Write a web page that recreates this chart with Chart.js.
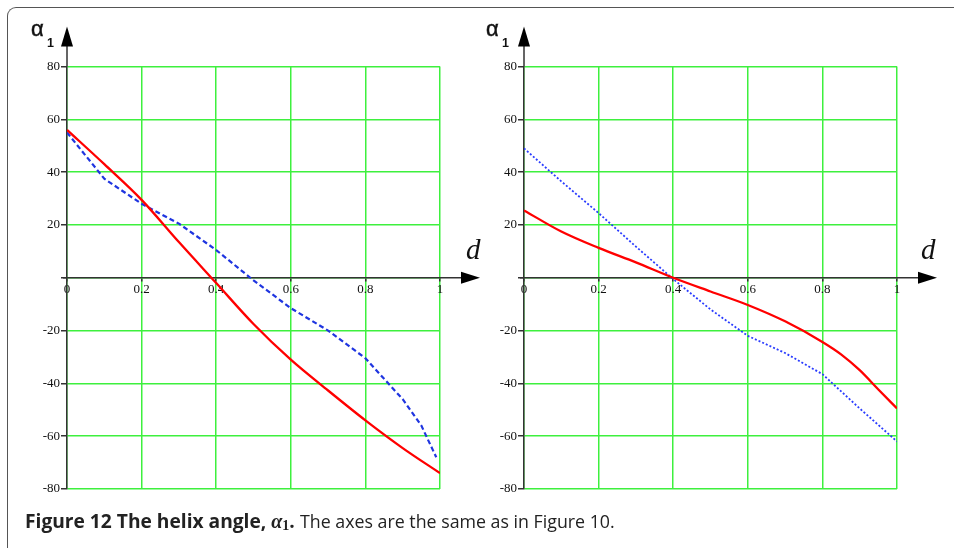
<!DOCTYPE html>
<html>
<head>
<meta charset="utf-8">
<script src="https://cdn.jsdelivr.net/npm/chart.js@4/dist/chart.umd.min.js"></script>
<style>
  html, body { margin:0; padding:0; background:#fff; }
  #wrap { position:relative; width:954px; height:548px; overflow:hidden; background:#fff; }
  canvas { position:absolute; top:0; }
  #frame { position:absolute; left:7px; top:7px; width:1000px; height:700px;
           border-top:1px solid #555; border-left:1px solid #555; border-top-left-radius:9px; }
  svg { position:absolute; left:0; top:0; }
</style>
</head>
<body>
<div id="wrap">
  <div id="frame"></div>
  <canvas id="c1" width="497" height="500" style="left:0px;width:497px;height:500px"></canvas>
  <canvas id="c2" width="497" height="500" style="left:457px;width:497px;height:500px"></canvas>
  <svg width="954" height="548" xmlns="http://www.w3.org/2000/svg">
    <text x="31" y="36" font-family="Liberation Sans" font-size="22" fill="#111" stroke="#111" stroke-width="0.5">α</text>
    <text x="47" y="47" font-family="Liberation Sans" font-weight="bold" font-size="12.5" fill="#111">1</text>
    <text x="486" y="36" font-family="Liberation Sans" font-size="22" fill="#111" stroke="#111" stroke-width="0.5">α</text>
    <text x="502" y="47" font-family="Liberation Sans" font-weight="bold" font-size="12.5" fill="#111">1</text>
    <text x="466" y="259" font-family="Liberation Serif" font-style="italic" font-size="29" fill="#111">d</text>
    <text x="921" y="259" font-family="Liberation Serif" font-style="italic" font-size="29" fill="#111">d</text>
    <text x="25" y="528" font-family="Open Sans" font-size="19.2" fill="#222"><tspan font-weight="bold">Figure 12 The helix angle, </tspan><tspan font-family="Liberation Serif" font-weight="bold" font-style="italic" font-size="20">α</tspan><tspan font-family="Liberation Serif" font-weight="bold" font-size="14" dy="2">1</tspan><tspan font-weight="bold" dy="-2">.</tspan></text>
    <text x="300" y="528" font-family="Open Sans" font-size="17.8" fill="#222">The axes are the same as in Figure 10.</text>
  </svg>
</div>
<script>
// ---- data ----
const leftRedD   = [0, 0.1, 0.2, 0.3, 0.4, 0.5, 0.6, 0.7, 0.8, 0.9, 1.0];
const leftRedA   = [56, 43, 29.5, 13.5, -2, -17.5, -31, -42.7, -54, -64.5, -74];
const leftBlueD  = [0, 0.1, 0.2, 0.3, 0.4, 0.5, 0.6, 0.7, 0.8, 0.9, 0.95, 0.99];
const leftBlueA  = [55, 37.5, 28, 20.5, 10.5, -1, -11.5, -20, -30.5, -46, -56, -68];
const rightRedD  = [0, 0.1, 0.2, 0.3, 0.4, 0.5, 0.6, 0.7, 0.8, 0.85, 0.9, 0.95, 1.0];
const rightRedA  = [25.5, 17.5, 11.3, 5.8, 0, -5.2, -10.3, -16.5, -24.3, -29, -35, -42.3, -49.5];
const rightBlueD = [0, 0.1, 0.2, 0.3, 0.4, 0.5, 0.6, 0.7, 0.8, 0.9, 1.0];
const rightBlueA = [49, 36.5, 24.5, 11.8, -0.5, -12, -22, -28.5, -36.5, -49.5, -62];
const xTickLabels = ['0', '0.2', '0.4', '0.6', '0.8', '1'];
const yTickLabels = ['-80', '-60', '-40', '-20', '', '20', '40', '60', '80'];

const GRID = '#3ef03e';
const AXIS = '#333333';
const pts = (xs, ys) => xs.map((x, i) => ({x, y: ys[i]}));

const axisArrows = {
  id: 'axisArrows',
  afterDraw(chart) {
    const {ctx, chartArea, scales} = chart;
    const x0 = scales.x.getPixelForValue(0);
    const y0 = scales.y.getPixelForValue(0);
    ctx.save();
    ctx.strokeStyle = AXIS; ctx.lineWidth = 1.5;
    ctx.beginPath();
    ctx.moveTo(x0, chartArea.top); ctx.lineTo(x0, chartArea.top - 22);
    ctx.moveTo(chartArea.right, y0); ctx.lineTo(chartArea.right + 23, y0);
    ctx.moveTo(x0 - 4, y0); ctx.lineTo(x0, y0);
    ctx.stroke();
    ctx.fillStyle = '#000';
    ctx.beginPath();
    ctx.moveTo(x0, chartArea.top - 40);
    ctx.lineTo(x0 - 6, chartArea.top - 20);
    ctx.lineTo(x0 + 6, chartArea.top - 20);
    ctx.closePath(); ctx.fill();
    ctx.beginPath();
    ctx.moveTo(chartArea.right + 40, y0);
    ctx.lineTo(chartArea.right + 21, y0 - 6);
    ctx.lineTo(chartArea.right + 21, y0 + 6);
    ctx.closePath(); ctx.fill();
    ctx.restore();
  }
};

function makeChart(id, datasets) {
  return new Chart(document.getElementById(id), {
    type: 'line',
    data: { datasets },
    plugins: [axisArrows],
    options: {
      responsive: false, animation: false, devicePixelRatio: 1,
      layout: { padding: { left: 27, top: 66.5, right: 57, bottom: 11 } },
      plugins: { legend: { display: false }, tooltip: { enabled: false } },
      elements: { point: { radius: 0 } },
      scales: {
        x: {
          type: 'linear', min: 0, max: 1, position: { y: 0 },
          grid: { color: GRID, lineWidth: 1.5, z: -1, drawTicks: true, tickLength: 3, tickColor: AXIS },
          border: { color: AXIS, width: 1.5 },
          ticks: { stepSize: 0.2, autoSkip: false, maxRotation: 0, padding: 1, color: '#111',
                   font: { family: 'Liberation Serif', size: 13 },
                   callback: (v, i) => xTickLabels[i] }
        },
        y: {
          type: 'linear', min: -80, max: 80, position: 'left',
          afterFit: s => { s.width = 40; },
          grid: { color: GRID, lineWidth: 1.5, z: -1, drawTicks: true, tickLength: 6, tickColor: AXIS },
          border: { color: AXIS, width: 1.5 },
          ticks: { stepSize: 20, autoSkip: false, padding: 1, color: '#111',
                   font: { family: 'Liberation Serif', size: 13 },
                   callback: (v, i) => yTickLabels[i] }
        }
      }
    }
  });
}

makeChart('c1', [
  { data: pts(leftRedD, leftRedA), borderColor: '#ff0000', borderWidth: 2.3, cubicInterpolationMode: 'monotone' },
  { data: pts(leftBlueD, leftBlueA), borderColor: '#1f35e0', borderWidth: 2.2, borderDash: [5, 3], tension: 0 }
]);
makeChart('c2', [
  { data: pts(rightRedD, rightRedA), borderColor: '#ff0000', borderWidth: 2.3, cubicInterpolationMode: 'monotone' },
  { data: pts(rightBlueD, rightBlueA), borderColor: '#2a3cff', borderWidth: 1.8, borderDash: [2, 2], tension: 0 }
]);
</script>
</body>
</html>
